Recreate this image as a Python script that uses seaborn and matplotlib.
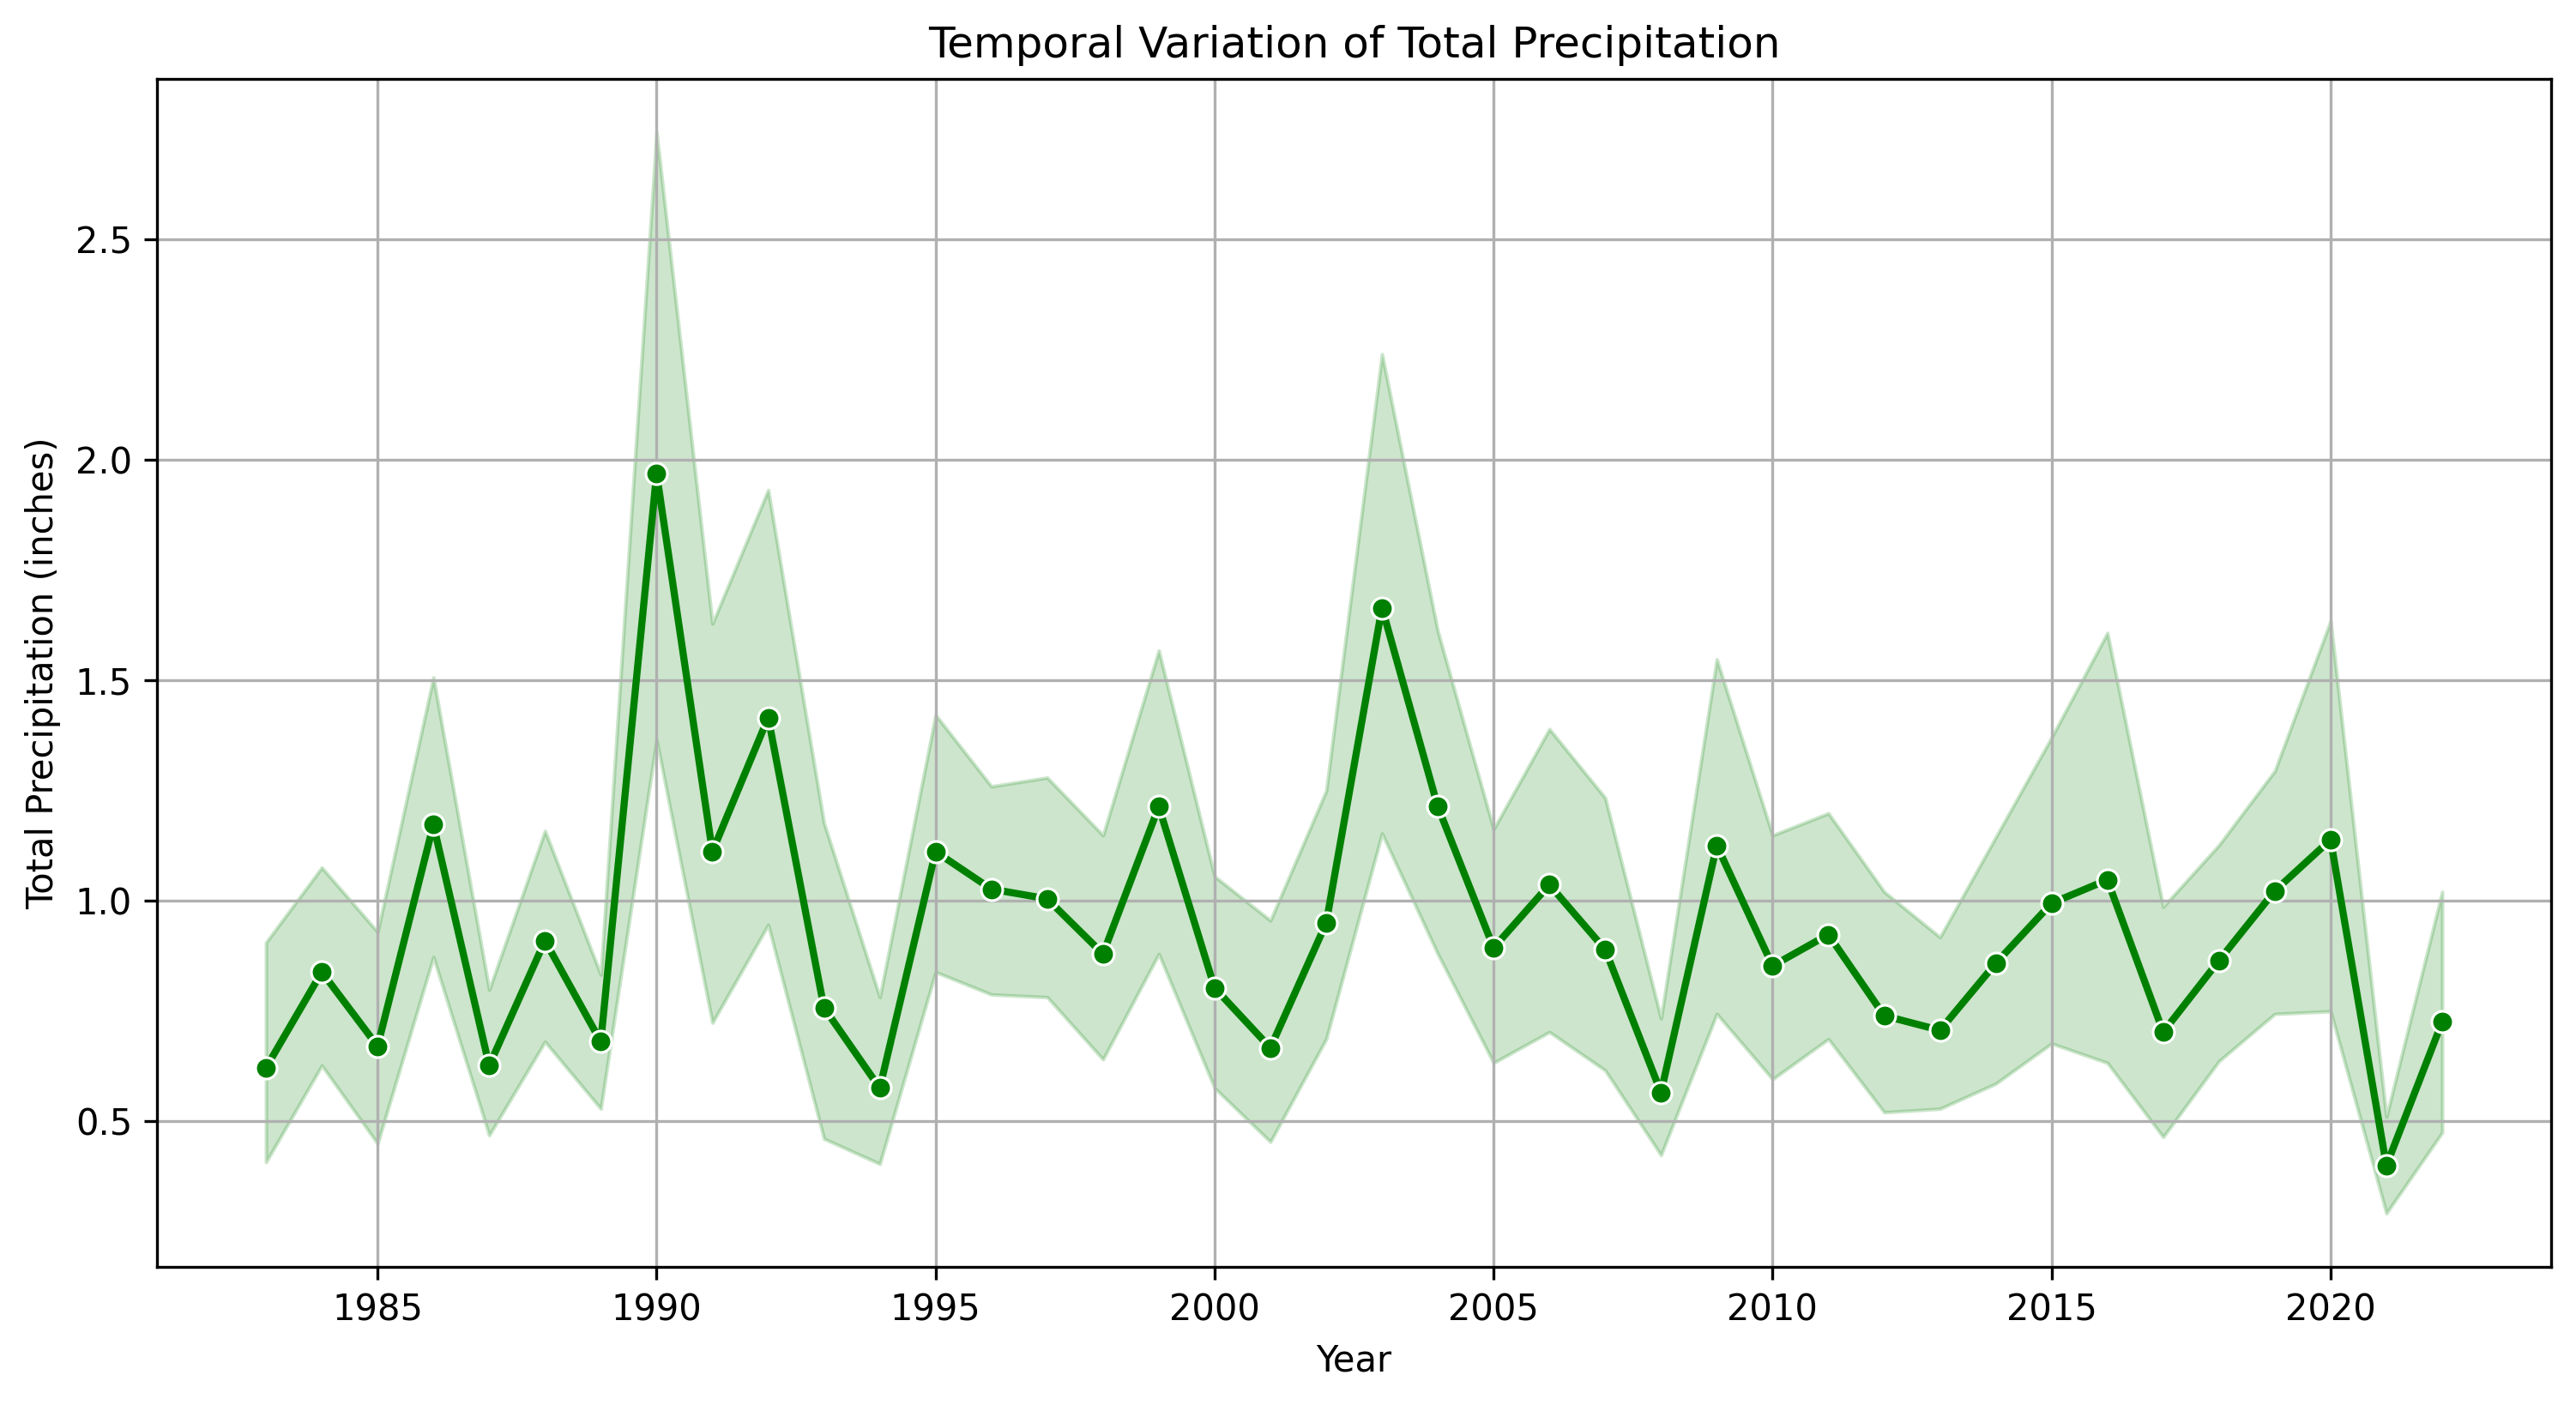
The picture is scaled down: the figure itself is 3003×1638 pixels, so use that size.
import numpy as np
import pandas as pd
import seaborn as sns
import matplotlib.pyplot as plt

# --- Data ---
years = list(range(1983, 2023))

mean_precip = [0.621, 0.838, 0.670, 1.172, 0.626, 0.909, 0.680, 1.968, 1.111, 1.415,
               0.757, 0.575, 1.111, 1.026, 1.004, 0.879, 1.213, 0.802, 0.666, 0.949,
               1.664, 1.213, 0.893, 1.036, 0.889, 0.565, 1.125, 0.852, 0.923, 0.739,
               0.706, 0.858, 0.994, 1.047, 0.702, 0.864, 1.022, 1.138, 0.399, 0.725]

ci_upper = [0.905, 1.075, 0.929, 1.506, 0.798, 1.158, 0.832, 2.741, 1.628, 1.931,
            1.176, 0.781, 1.421, 1.259, 1.279, 1.148, 1.567, 1.055, 0.955, 1.249,
            2.239, 1.611, 1.162, 1.389, 1.233, 0.733, 1.547, 1.148, 1.198, 1.020,
            0.917, 1.144, 1.370, 1.607, 0.986, 1.126, 1.294, 1.634, 0.510, 1.020]

ci_lower = [0.407, 0.626, 0.449, 0.872, 0.468, 0.680, 0.528, 1.364, 0.723, 0.945,
            0.460, 0.403, 0.838, 0.787, 0.781, 0.640, 0.879, 0.575, 0.453, 0.686,
            1.152, 0.879, 0.632, 0.702, 0.615, 0.423, 0.743, 0.595, 0.686, 0.520,
            0.528, 0.585, 0.676, 0.632, 0.464, 0.636, 0.743, 0.749, 0.291, 0.474]

df = pd.DataFrame({'Year': years, 'Precip': mean_precip,
                   'lo': ci_lower, 'hi': ci_upper})

# --- Plot ---
fig, ax = plt.subplots(figsize=(10.013, 5.46), dpi=300)
fig.subplots_adjust(left=0.061, right=0.990, top=0.944, bottom=0.098)

ax.fill_between(df['Year'], df['lo'], df['hi'], color='green', alpha=0.2)
sns.lineplot(data=df, x='Year', y='Precip', marker='o', color='green',
             linewidth=2, ax=ax)

ax.set_title('Temporal Variation of Total Precipitation')
ax.set_xlabel('Year')
ax.set_ylabel('Total Precipitation (inches)')
ax.grid(True)

plt.savefig('out.png', dpi=300)
